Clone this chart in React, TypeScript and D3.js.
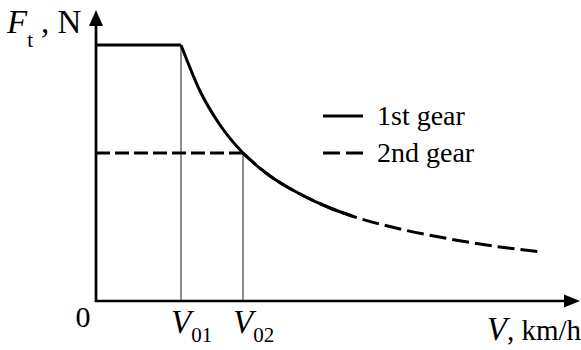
import React from "react";
import * as d3 from "d3";

// Values (V in arbitrary km/h units, F in arbitrary N units)
const V01 = 85;
const V02 = 147;
const F1 = 256;
const F2 = 148;

const gear1: [number, number][] = [
  [0, 256],
  [85, 256],
];
const gear1Curve: [number, number][] = [
  [85, 256],
  [104, 210],
  [124, 176],
  [147, 148],
  [174, 125],
  [204, 107],
  [234, 93],
  [256, 85],
];
const gear2: [number, number][] = [
  [0, 148],
  [147, 148],
];
const gear2Curve: [number, number][] = [
  [147, 148],
  [174, 125],
  [204, 107],
  [234, 93],
  [256, 85],
  [304, 72],
  [354, 62],
  [404, 54],
  [447, 49],
];

const legendItems = [
  { label: "1st gear", dash: "none" },
  { label: "2nd gear", dash: "17,6" },
];

const W = 581;
const H = 350;
const ox = 96;
const oy = 301;

export default function App() {
  const x = d3.scaleLinear().domain([0, 484]).range([ox, ox + 484]);
  const y = d3.scaleLinear().domain([0, 290]).range([oy, oy - 290]);

  const flat = d3
    .line<[number, number]>()
    .x((d) => x(d[0]))
    .y((d) => y(d[1]));
  const curve = d3
    .line<[number, number]>()
    .x((d) => x(d[0]))
    .y((d) => y(d[1]))
    .curve(d3.curveMonotoneX);

  const font = "'Liberation Serif', 'Times New Roman', serif";
  const xEnd = x(484);
  const yTop = y(290);

  return (
    <svg
      width={W}
      height={H}
      style={{ position: "absolute", left: 0, top: 0, background: "#fff" }}
      fontFamily={font}
    >
      {/* guide lines */}
      <line x1={x(V01)} x2={x(V01)} y1={y(F1)} y2={oy} stroke="#666" strokeWidth={1.5} />
      <line x1={x(V02)} x2={x(V02)} y1={y(F2)} y2={oy} stroke="#666" strokeWidth={1.5} />

      {/* 2nd gear */}
      <path d={flat(gear2) ?? ""} fill="none" stroke="#000" strokeWidth={3} strokeDasharray="14,5" />
      <path d={curve(gear2Curve) ?? ""} fill="none" stroke="#000" strokeWidth={3} strokeDasharray="17,6" />

      {/* 1st gear */}
      <path d={flat(gear1) ?? ""} fill="none" stroke="#000" strokeWidth={3} />
      <path d={curve(gear1Curve) ?? ""} fill="none" stroke="#000" strokeWidth={3} />

      {/* axes */}
      <line x1={ox} x2={ox} y1={oy + 1} y2={yTop + 12} stroke="#000" strokeWidth={2.7} />
      <line x1={ox - 1} x2={xEnd - 12} y1={oy} y2={oy} stroke="#000" strokeWidth={2.7} />
      <path d={`M${ox},${yTop - 1} L${ox - 7},${yTop + 15} L${ox + 7},${yTop + 15} Z`} fill="#000" />
      <path d={`M${xEnd},${oy} L${xEnd - 16},${oy - 6.5} L${xEnd - 16},${oy + 6.5} Z`} fill="#000" />

      {/* legend */}
      {legendItems.map((d, i) => (
        <g key={d.label} transform={`translate(323,${116 + i * 37})`}>
          <line x1={0} x2={40} y1={0} y2={0} stroke="#000" strokeWidth={3} strokeDasharray={d.dash} />
          <text x={54} y={9} fontSize={28}>
            {d.label}
          </text>
        </g>
      ))}

      {/* axis labels */}
      <text x={7} y={33} fontSize={33}>
        <tspan fontStyle="italic">F</tspan>
        <tspan fontSize={21} dy={14}>t</tspan>
        <tspan dx={8} dy={-14}>, N</tspan>
      </text>
      <text x={83} y={327} fontSize={30} textAnchor="middle">0</text>
      <text x={x(V01) - 10} y={333} fontSize={33}>
        <tspan fontStyle="italic">V</tspan>
        <tspan fontSize={21} dy={9}>01</tspan>
      </text>
      <text x={x(V02) - 10} y={333} fontSize={33}>
        <tspan fontStyle="italic">V</tspan>
        <tspan fontSize={21} dy={9}>02</tspan>
      </text>
      <text x={581} y={340} fontSize={29} textAnchor="end">
        <tspan fontStyle="italic" fontSize={33}>V</tspan>
        <tspan>, km/h</tspan>
      </text>
    </svg>
  );
}
